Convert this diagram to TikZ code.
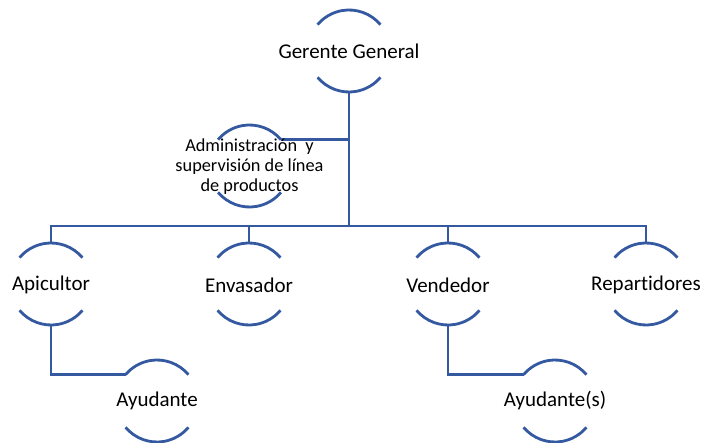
\documentclass[tikz,border=0pt]{standalone}
\usepackage{fontspec}
\setmainfont{Carlito}[Ligatures=NoCommon]
\definecolor{orgblue}{RGB}{52,89,160}
\begin{document}
\begin{tikzpicture}[x=1pt,y=1pt,
  ring/.style={circle, minimum size=82pt, inner sep=0pt, outer sep=0pt},
  lbl/.style={font=\fontsize{21}{24}\selectfont, inner sep=0pt, text=black},
  lblsmall/.style={font=\fontsize{18.3}{20}\selectfont, inner sep=0pt, align=center, text=black},
  conn/.style={draw=orgblue, line width=2.8pt},
]
\useasboundingbox (0,0) rectangle (703,442);
% ring nodes
\node[ring] (gg)  at (349,391) {};
\node[ring] (adm) at (249.5,276) {};
\node[ring] (api) at (51,158) {};
\node[ring] (env) at (249,158) {};
\node[ring] (ven) at (448,158) {};
\node[ring] (rep) at (646,158) {};
\node[ring] (ay)  at (157,41) {};
\node[ring] (ays) at (555,41) {};
\coordinate (bus) at (0,216);
% arcs
\foreach \n in {gg,adm,api,env,ven,rep,ay,ays} {
  \draw[conn] (\n.40) arc[start angle=40, end angle=140, radius=41pt];
  \draw[conn] (\n.220) arc[start angle=220, end angle=320, radius=41pt];
}
% connectors
\draw[conn] (gg.south) -- (gg.south |- bus);
\draw[conn] (adm.40) -- (adm.40 -| gg.south);
\draw[conn] (api.north) |- (bus -| rep.north) -- (rep.north);
\draw[conn] (env.north) -- (env.north |- bus);
\draw[conn] (ven.north) -- (ven.north |- bus);
\draw[conn] (api.south) |- (ay.140);
\draw[conn] (ven.south) |- (ays.140);
% texts
\node[lbl] (ggt)  at (gg)  {Gerente General};
\node[lblsmall] (admt) at ([yshift=-1pt]adm) {Administración~ y\\supervisión de línea\\de productos};
\node[lbl] (apit) at ([yshift=-1pt]api) {Apicultor};
\node[lbl] (envt) at ([yshift=-1pt]env) {Envasador};
\node[lbl] (vent) at ([yshift=-1pt]ven) {Vendedor};
\node[lbl] (rept) at ([yshift=-1pt]rep) {Repartidores};
\node[lbl] (ayt)  at (ay)  {Ayudante};
\node[lbl] (ayst) at (ays) {Ayudante(s)};
\end{tikzpicture}
\end{document}
